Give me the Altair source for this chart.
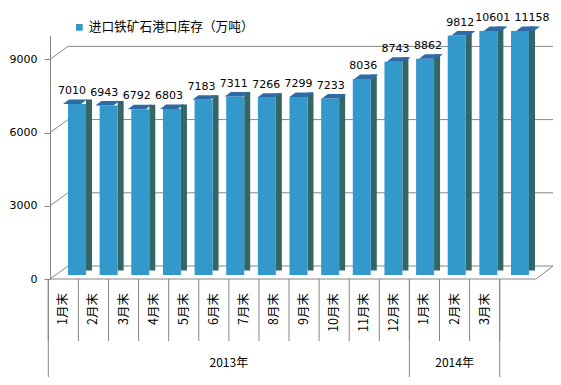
import altair as alt
import pandas as pd

# ---- data ----
months = ["1月末", "2月末", "3月末", "4月末", "5月末", "6月末", "7月末", "8月末",
          "9月末", "10月末", "11月末", "12月末", "1月末", "2月末", "3月末"]
years = ["2013年"] * 12 + ["2014年"] * 3
values = [7010, 6943, 6792, 6803, 7183, 7311, 7266, 7299, 7233,
          8036, 8743, 8862, 9812, 10601, 11158]
y_ticks = [0, 3000, 6000, 9000]
series_name = "进口铁矿石港口库存（万吨）"

# ---- tables built from the lists ----
n = len(values)
bars = pd.DataFrame({
    "idx": list(range(n)),
    "month": months,
    "year": years,
    "value": values,
    "label": [str(v) for v in values],
    "series": [series_name] * n,
})
bars["mid"] = bars["idx"] + 0.5

year_names = list(dict.fromkeys(years))
year_rows = []
for yname in year_names:
    ids = [i for i, y in enumerate(years) if y == yname]
    year_rows.append({"year": yname, "start": ids[0], "end": ids[-1] + 1,
                      "center": (ids[0] + ids[-1] + 1) / 2})
year_df = pd.DataFrame(year_rows)
year_bounds = pd.DataFrame({"pos": sorted(set(year_df["start"]).union(year_df["end"]))})
month_bounds = pd.DataFrame({"pos": list(range(n + 1))})
ticks_df = pd.DataFrame({"tick": y_ticks})
floor_df = pd.DataFrame({"tick": [0]})

# ---- styling ----
GRID = "#868686"
FRONT = "#3399CC"
SIDE = "#336666"
TOP = "#2E6BA6"
NUM_FONT = "DejaVu Sans"
CJK_FONT = "Noto Sans CJK SC"

ysc = alt.Scale(domain=[0, 10000], range=[271, 27], clamp=True, nice=False, zero=True)
x_bar = alt.Scale(domain=[0, n - 1], range=[22, 475], nice=False, zero=False)
x_cat = alt.Scale(domain=[0, n], range=[-1.7, 449.7], nice=False, zero=False)

yaxis = alt.Axis(values=y_ticks, title=None, grid=False, domainColor=GRID,
                 tickColor=GRID, tickSize=6, labelPadding=7, labelFont=NUM_FONT,
                 labelFontSize=11, labelColor="black", format="d", orient="left")

# back wall gridlines
grid = alt.Chart(ticks_df).mark_rule(color=GRID, strokeWidth=1, yOffset=-13).encode(
    y=alt.Y("tick:Q", scale=ysc, axis=yaxis),
    x=alt.value(18), x2=alt.value(503))

# left wall diagonals
diag = alt.Chart(ticks_df).mark_rule(color=GRID, strokeWidth=1, y2Offset=-13).encode(
    y=alt.Y("tick:Q", scale=ysc, axis=yaxis), y2="tick:Q",
    x=alt.value(0), x2=alt.value(18))

# floor front edge and right edge
floor_front = alt.Chart(floor_df).mark_rule(color=GRID, strokeWidth=1).encode(
    y=alt.Y("tick:Q", scale=ysc, axis=yaxis), x=alt.value(0), x2=alt.value(486))
floor_right = alt.Chart(floor_df).mark_rule(color=GRID, strokeWidth=1, y2Offset=-13).encode(
    y=alt.Y("tick:Q", scale=ysc, axis=yaxis), y2="tick:Q",
    x=alt.value(486), x2=alt.value(503))

# category dividers
div_short = alt.Chart(month_bounds).mark_rule(color=GRID, strokeWidth=1).encode(
    x=alt.X("pos:Q", scale=x_cat, axis=None), y=alt.value(271), y2=alt.value(333))
div_long = alt.Chart(year_bounds).mark_rule(color=GRID, strokeWidth=1).encode(
    x=alt.X("pos:Q", scale=x_cat, axis=None), y=alt.value(271), y2=alt.value(370))

# 3D bars
side = alt.Chart(bars).mark_bar(width=6, xOffset=12, yOffset=-8.5, y2Offset=-8.5,
                                color=SIDE).encode(
    x=alt.X("idx:Q", scale=x_bar, axis=None),
    y=alt.Y("value:Q", scale=ysc, axis=yaxis), y2=alt.datum(0))

front = alt.Chart(bars).mark_bar(width=18, yOffset=-4, y2Offset=-4).encode(
    x=alt.X("idx:Q", scale=x_bar, axis=None),
    y=alt.Y("value:Q", scale=ysc, axis=yaxis), y2=alt.datum(0),
    color=alt.Color("series:N", scale=alt.Scale(domain=[series_name], range=[FRONT]),
                    legend=alt.Legend(orient="none", legendX=23, legendY=13, title=None,
                                      symbolType="square", symbolSize=45,
                                      symbolStrokeWidth=0, padding=0, labelOffset=3,
                                      labelFont=CJK_FONT, labelFontSize=12.7,
                                      labelColor="black", labelLimit=400)))

top = alt.Chart(bars).mark_point(
    shape="M-1,0.1875L0.5,0.1875L1,-0.1875L-0.5,-0.1875Z",
    size=576, filled=True, opacity=1, strokeWidth=0, color=TOP,
    xOffset=3, yOffset=-6.25).encode(
    x=alt.X("idx:Q", scale=x_bar, axis=None),
    y=alt.Y("value:Q", scale=ysc, axis=yaxis))

label_enc = dict(
    x=alt.X("idx:Q", scale=x_bar, axis=None),
    y=alt.Y("value:Q", scale=ysc, axis=yaxis), text="label:N")

labels = alt.Chart(bars).transform_filter(alt.datum.idx < n - 1).mark_text(
    dy=-14, baseline="alphabetic", align="center",
    font=NUM_FONT, fontSize=11, color="black").encode(**label_enc)

# the last label is nudged right, as in the reference, so it does not collide
labels_last = alt.Chart(bars).transform_filter(alt.datum.idx == n - 1).mark_text(
    dy=-14, dx=7, baseline="alphabetic", align="center",
    font=NUM_FONT, fontSize=11, color="black").encode(**label_enc)

month_text = alt.Chart(bars).mark_text(angle=270, align="right", baseline="middle",
                                       font=CJK_FONT, fontSize=12.5, color="black").encode(
    x=alt.X("mid:Q", scale=x_cat, axis=None), y=alt.value(285), text="month:N")

year_text = alt.Chart(year_df).mark_text(align="center", baseline="middle",
                                         font=CJK_FONT, fontSize=12, color="black").encode(
    x=alt.X("center:Q", scale=x_cat, axis=None), y=alt.value(355), text="year:N")

chart = alt.layer(
    grid, diag, floor_front, floor_right, div_short, div_long,
    side, front, top, labels, labels_last, month_text, year_text
).resolve_scale(x="independent").properties(
    width=503, height=369,
    padding={"left": 42, "top": 0, "right": 0, "bottom": 0},
    autosize=alt.AutoSizeParams(type="none"),
    background="white",
).configure_view(stroke=None)

chart.save("out.html", embed_options={"renderer": "svg", "actions": False})
